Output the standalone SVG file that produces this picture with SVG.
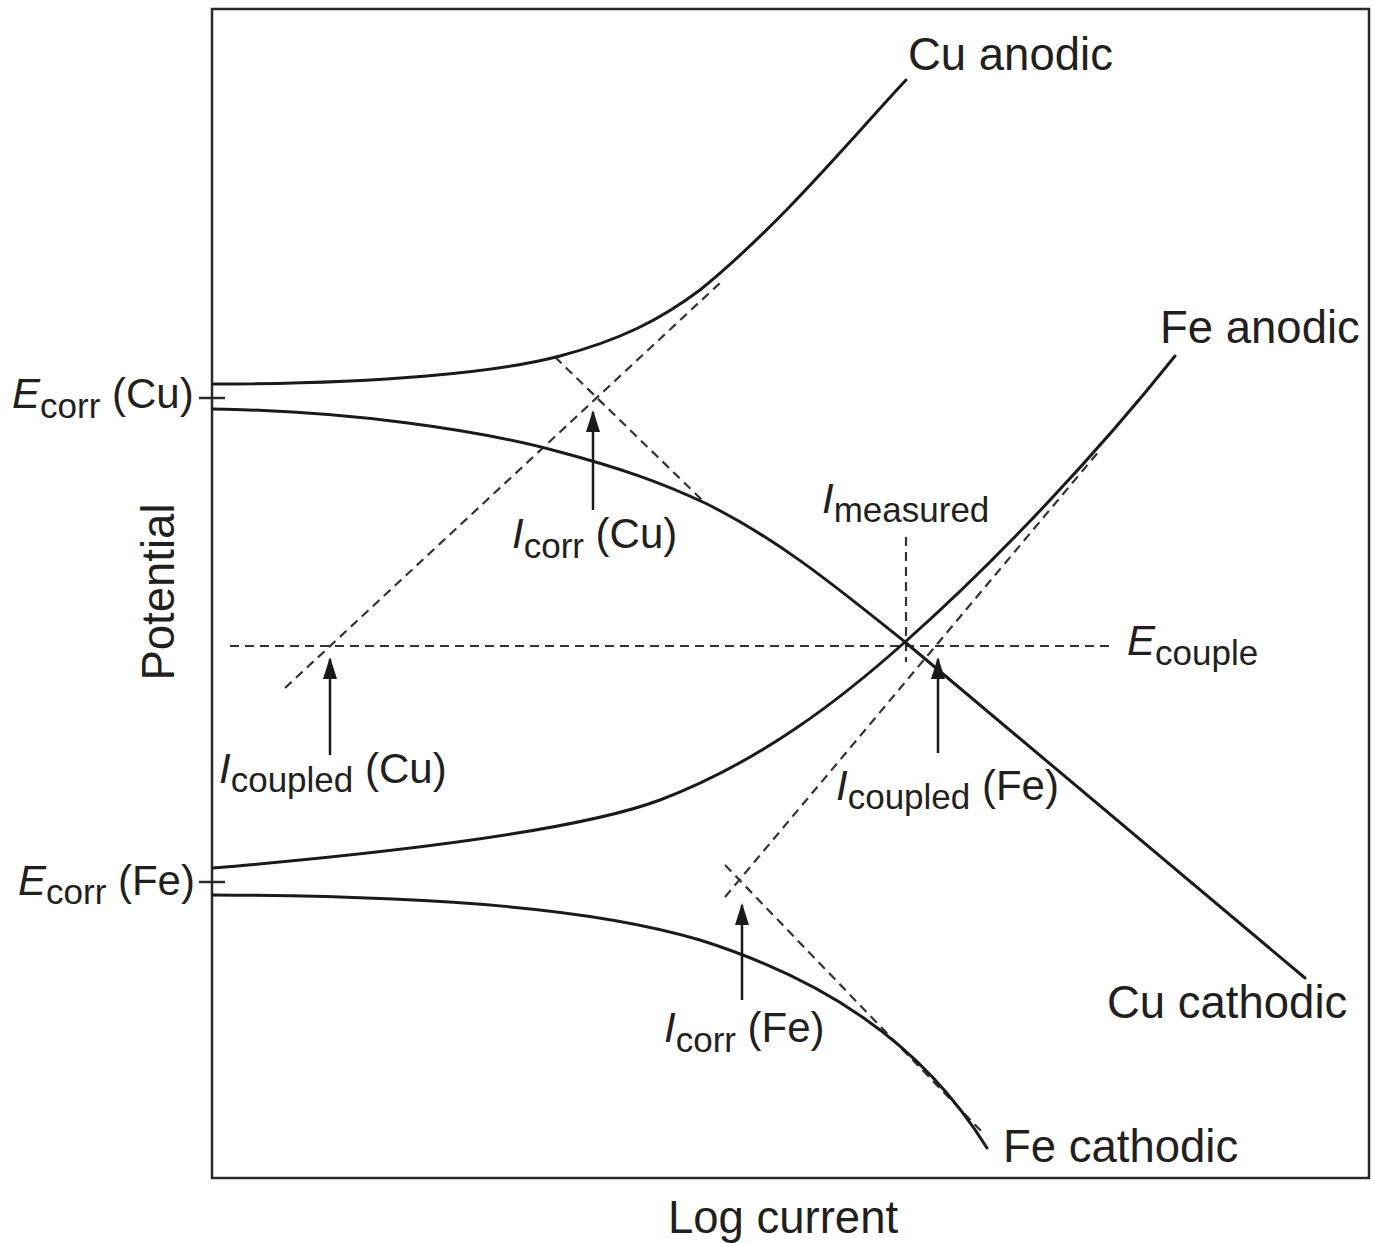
<svg xmlns="http://www.w3.org/2000/svg" width="1375" height="1243" viewBox="0 0 1375 1243">
<style>
text{font-family:"Liberation Sans",Arial,sans-serif;fill:#231f20}
.lbl{font-size:45.5px}
.m{font-size:42px}
.s{font-size:35px}
.it{font-style:italic}
.curve{fill:none;stroke:#1a1a1a;stroke-width:3;stroke-linecap:round}
.dash{fill:none;stroke:#333;stroke-width:2.2;stroke-dasharray:9 6}
.arr{stroke:#1a1a1a;stroke-width:2.5;fill:none;marker-end:url(#ah)}
</style>
<defs>
<marker id="ah" markerWidth="22" markerHeight="14" refX="20" refY="7" orient="auto" markerUnits="userSpaceOnUse" viewBox="0 0 22 14">
<path d="M0,0 L22,7 L0,14 Z" fill="#1a1a1a"/>
</marker>
</defs>
<rect width="1375" height="1243" fill="#fff"/>
<g id="frame">
<rect x="212" y="9" width="1157" height="1169" fill="none" stroke="#2a2a2a" stroke-width="2.5"/>
<line x1="199" y1="398" x2="225" y2="398" stroke="#2a2a2a" stroke-width="2.5"/>
<line x1="199" y1="882" x2="225" y2="882" stroke="#2a2a2a" stroke-width="2.5"/>
</g>
<g id="connectors">
<line class="dash" x1="285" y1="688" x2="720" y2="283"/>
<line class="dash" x1="555" y1="357" x2="702" y2="500"/>
<line class="dash" x1="725" y1="897" x2="1100" y2="450"/>
<line class="dash" x1="725" y1="865" x2="982" y2="1132"/>
<line class="dash" x1="230" y1="646" x2="1115" y2="646"/>
<line class="dash" x1="906" y1="537" x2="906" y2="662"/>
<line class="arr" x1="593" y1="510" x2="593" y2="412"/>
<line class="arr" x1="330" y1="755" x2="330" y2="659"/>
<line class="arr" x1="938" y1="753" x2="938" y2="659"/>
<line class="arr" x1="742" y1="1000" x2="742" y2="905"/>
</g>
<g id="cu-anodic">
<path class="curve" d="M213,384 C380,384 500,372 560,356 C620,340 660,320 700,290 C780,225 850,140 906,80"/>
<text class="lbl" x="908" y="70">Cu anodic</text>
</g>
<g id="cu-cathodic">
<path class="curve" d="M213,409 C350,411 480,430 560,452 C620,468 660,482 705,503 C780,540 840,590 905,642 L1305,978"/>
<text class="lbl" x="1107" y="1018">Cu cathodic</text>
</g>
<g id="fe-anodic">
<path class="curve" d="M213,868 C400,852 580,830 660,800 C760,762 840,700 905,642 C1000,558 1100,450 1175,356"/>
<text class="lbl" x="1160" y="343">Fe anodic</text>
</g>
<g id="fe-cathodic">
<path class="curve" d="M213,895 C450,896 600,910 700,940 C820,978 920,1040 987,1148"/>
<text class="lbl" x="1003" y="1162">Fe cathodic</text>
</g>
<g id="ecorr-cu">
<text x="12" y="408"><tspan class="m it">E</tspan><tspan class="s" dy="10">corr</tspan><tspan class="m" dy="-10"> (Cu)</tspan></text>
</g>
<g id="ecorr-fe">
<text x="18" y="895"><tspan class="m it">E</tspan><tspan class="s" dy="9">corr</tspan><tspan class="m" dy="-9"> (Fe)</tspan></text>
</g>
<g id="icorr-cu">
<text x="512" y="548"><tspan class="m it">I</tspan><tspan class="s" dy="10">corr</tspan><tspan class="m" dy="-10"> (Cu)</tspan></text>
</g>
<g id="icoupled-cu">
<text x="219" y="783"><tspan class="m it">I</tspan><tspan class="s" dy="9">coupled</tspan><tspan class="m" dy="-9"> (Cu)</tspan></text>
</g>
<g id="imeasured">
<text x="822" y="513"><tspan class="m it">I</tspan><tspan class="s" dy="9">measured</tspan></text>
</g>
<g id="ecouple">
<text x="1127" y="655"><tspan class="m it">E</tspan><tspan class="s" dy="10">couple</tspan></text>
</g>
<g id="icoupled-fe">
<text x="836" y="800"><tspan class="m it">I</tspan><tspan class="s" dy="9">coupled</tspan><tspan class="m" dy="-9"> (Fe)</tspan></text>
</g>
<g id="icorr-fe">
<text x="664" y="1042"><tspan class="m it">I</tspan><tspan class="s" dy="10">corr</tspan><tspan class="m" dy="-10"> (Fe)</tspan></text>
</g>
<g id="axes-labels">
<text class="lbl" x="783" y="1233" text-anchor="middle">Log current</text>
<text class="lbl" transform="translate(174 592) rotate(-90)" text-anchor="middle">Potential</text>
</g>
</svg>
